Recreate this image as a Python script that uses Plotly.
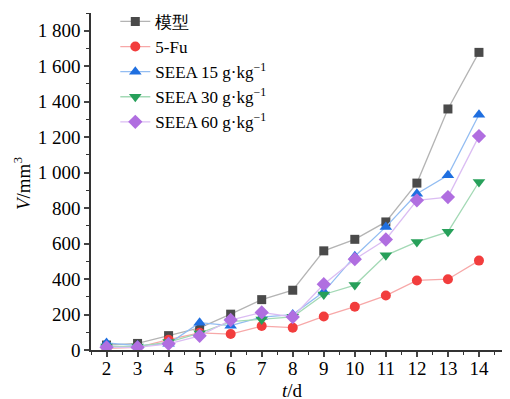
import plotly.graph_objects as go

days = [2, 3, 4, 5, 6, 7, 8, 9, 10, 11, 12, 13, 14]
model = [28, 37, 81, 125, 202, 284, 337, 559, 624, 722, 941, 1359, 1678]
fu5 = [10, 15, 58, 97, 90, 135, 126, 189, 244, 307, 392, 399, 504]
seea15 = [40, 25, 35, 154, 137, 185, 200, 328, 529, 694, 881, 985, 1326]
seea30 = [20, 20, 45, 95, 160, 172, 187, 313, 366, 534, 609, 666, 947]
seea60 = [15, 15, 35, 80, 169, 212, 186, 371, 512, 623, 844, 862, 1206]

names = ["模型", "5-Fu", "SEEA 15 g·kg<sup>−1</sup>", "SEEA 30 g·kg<sup>−1</sup>", "SEEA 60 g·kg<sup>−1</sup>"]
series = [model, fu5, seea15, seea30, seea60]
mcolors = ["#4a4a4a", "#f23d3d", "#1f6fe0", "#27a05a", "#b06ee0"]
lcolors = ["#b4b4b4", "#f7a8a8", "#93bdf2", "#a3d9b5", "#dbbdf3"]
symbols = ["square", "circle", "triangle-up", "triangle-down", "diamond"]
msizes = [9, 10, 11, 11, 11]

ytickvals = [0, 200, 400, 600, 800, 1000, 1200, 1400, 1600, 1800]
yticktext = ["0", "200", "400", "600", "800", "1 000", "1 200", "1 400", "1 600", "1 800"]

fig = go.Figure()
for name, vals, mc, lc, sym, ms in zip(names, series, mcolors, lcolors, symbols, msizes):
    fig.add_trace(go.Scatter(
        x=days, y=vals, name=name, mode="lines+markers",
        line=dict(color=lc, width=1.3),
        marker=dict(symbol=sym, color=mc, size=ms, line=dict(width=0)),
    ))

font = "Liberation Serif"
# the page body adds an 8px margin, so the figure is sized/offset to compensate
fig.update_layout(
    width=502, height=391,
    margin=dict(l=83, r=0, t=5, b=49, autoexpand=False),
    paper_bgcolor="white", plot_bgcolor="white",
    font=dict(family=font, size=19, color="black"),
    showlegend=True,
    legend=dict(x=0.058, y=1.027, xanchor="left", yanchor="top",
                font=dict(family=font, size=17, color="black"),
                bgcolor="rgba(0,0,0,0)", itemwidth=30, tracegroupgap=0),
    xaxis=dict(range=[1.5, 15], tickvals=days, ticks="outside", ticklen=5,
               tickwidth=1.5, showline=True, linecolor="#333", linewidth=1.5,
               showgrid=False, zeroline=False, automargin=False, ticklabelstandoff=-5,
               minor=dict(dtick=0.5, tick0=1.5, ticks="outside", ticklen=3, tickwidth=1, tickcolor="#333")),
    yaxis=dict(range=[0, 1900], tickvals=ytickvals, ticktext=yticktext, ticks="outside",
               ticklen=5, tickwidth=1.5, showline=True, linecolor="#333", linewidth=1.5,
               showgrid=False, zeroline=False, automargin=False,
               minor=dict(dtick=100, tick0=0, ticks="outside", ticklen=3, tickwidth=1, tickcolor="#333")),
    annotations=[
        dict(text="<i>t</i>/d", xref="x", yref="paper", x=8, y=-0.119, xanchor="center",
             yanchor="middle", showarrow=False, font=dict(size=19, family=font)),
        dict(text="<i>V</i>/mm<sup>3</sup>", xref="paper", yref="paper", x=-0.165, y=0.495,
             xanchor="center", yanchor="middle", textangle=-90, showarrow=False,
             font=dict(size=19, family=font)),
    ],
)
fig.write_html("out.html")
